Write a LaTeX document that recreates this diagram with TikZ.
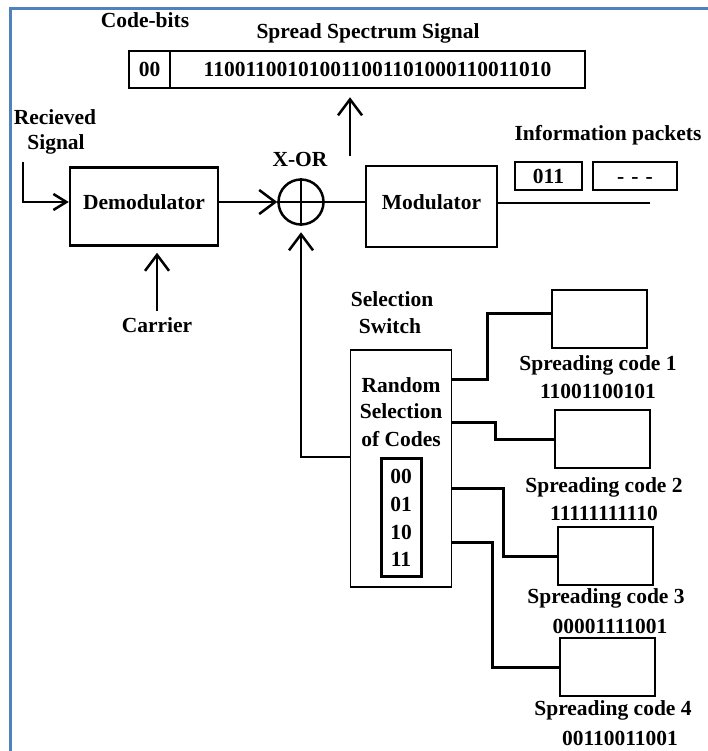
\documentclass[tikz,border=0pt]{standalone}
\usepackage{fontspec}
\setmainfont{Liberation Serif}
\usetikzlibrary{arrows.meta}
\definecolor{frameblue}{RGB}{79,129,189}
\begin{document}
\begin{tikzpicture}[x=1pt,y=-1pt,
  txt/.style={font=\bfseries\fontsize{21.5}{27}\selectfont, inner sep=0pt},
  tb/.style={txt, anchor=base},
  box/.style={draw, line width=2.5pt, inner sep=0pt, txt},
  wire/.style={line width=2.5pt},
  barb/.style={wire, -{Straight Barb[length=16pt,width=24pt,line width=2.5pt]}},
  smallbarb/.style={wire, -{Straight Barb[length=13pt,width=16pt,line width=2.5pt]}},
  codebox/.style={draw, line width=2pt, minimum width=95pt, minimum height=58pt, inner sep=0pt},
  cwire/.style={line width=3pt},
]
\useasboundingbox (0,0) rectangle (708,751);
\draw[frameblue, line width=2.5pt] (10.5,751) -- (10.5,8.5) -- (708,8.5);

% top: spread spectrum signal
\node[tb] (lcb) at (145,28) {Code-bits};
\node[tb] (lss) at (368,39) {Spread Spectrum Signal};
\node[box, minimum width=41pt, minimum height=37pt] (cb) at (149.5,69.5) {00};
\node[box, minimum width=415pt, minimum height=37pt] (ss) at (377.5,69.5) {110011001010011001101000110011010};

% received signal and demodulator
\node[tb] (lrx1) at (55,125) {Recieved};
\node[tb] (lrx2) at (56,150) {Signal};
\node[box, minimum width=148pt, minimum height=78pt, text depth=8.6pt] (demod) at (144,206.5) {Demodulator};
\node[draw, circle, line width=2.5pt, minimum size=45pt, inner sep=0pt] (xor) at (301,202) {};
\draw[line width=2.5pt] (xor.north) -- (xor.south) (xor.west) -- (xor.east);
\node[tb] (lxor) at (300,167) {X-OR};
\node[box, minimum width=131pt, minimum height=81pt, text depth=8.6pt] (mod) at (431.5,206.5) {Modulator};

\coordinate (rx) at (23,162);
\draw[smallbarb] (rx) |- (demod.west |- xor.center);
\draw[barb] (demod.east |- xor.center) -- (xor.west);
\draw[wire] (xor.east) -- (mod.west |- xor.east);
\coordinate (out) at (650,203);
\draw[wire] (mod.east |- out) -- (out);

\coordinate (up) at (350,156);
\draw[barb, shorten >=8pt] (up) -- (up |- ss.south);

% information packets
\node[tb] (linfo) at (608,141) {Information packets};
\node[box, minimum width=67pt, minimum height=28pt, text height=14.5pt, text depth=0pt] (p1) at (548.5,176) {011};
\node[box, minimum width=84pt, minimum height=28pt, text height=14.5pt, text depth=0pt] (p2) at (635,176) {-\,\,-\,\,-};

% carrier
\node[tb] (lcar) at (157,332) {Carrier};
\draw[barb, shorten <=6pt, shorten >=6pt] (lcar.north) -- (lcar.north |- demod.south);

% selection switch
\node[tb] (lsel1) at (392,306.5) {Selection};
\node[tb] (lsel2) at (390,333) {Switch};
\node[draw, line width=1.5pt, minimum width=101pt, minimum height=237pt, inner sep=0pt] (sel) at (401.2,468.5) {};
\node[tb] (r1) at (401,392) {Random};
\node[tb] (r2) at (401,418) {Selection};
\node[tb] (r3) at (401,446) {of Codes};
\node[draw, line width=3pt, minimum width=40pt, minimum height=118pt, inner sep=0pt] (codes) at (401.7,517) {};
\node[tb] (d0) at (401,483) {00};
\node[tb] (d1) at (401,511) {01};
\node[tb] (d2) at (401,539) {10};
\node[tb] (d3) at (401,566) {11};

\coordinate (fb) at (0,457);
\draw[barb, shorten >=6.5pt] (sel.west |- fb) -| (xor.south);

% spreading codes
\node[codebox] (s1) at (599,318.5) {};
\node[codebox] (s2) at (602.5,439) {};
\node[codebox] (s3) at (605.5,556) {};
\node[codebox] (s4) at (607.5,667) {};

\node[tb] (c1a) at (598,370) {Spreading code 1};
\node[tb] (c1b) at (598,398) {11001100101};
\node[tb] (c2a) at (604,492) {Spreading code 2};
\node[tb] (c2b) at (604,520) {11111111110};
\node[tb] (c3a) at (606,603) {Spreading code 3};
\node[tb] (c3b) at (610,633) {00001111001};
\node[tb] (c4a) at (613,715) {Spreading code 4};
\node[tb] (c4b) at (620,745) {00110011001};

\coordinate (y1) at (0,379);
\coordinate (y2) at (0,422);
\coordinate (y3) at (0,488);
\coordinate (y4) at (0,542);
\draw[cwire] (sel.east |- y1) -- ++(35,0) |- ([yshift=5pt]s1.west);
\draw[cwire] (sel.east |- y2) -- ++(43,0) |- (s2.west);
\draw[cwire] (sel.east |- y3) -- ++(51,0) |- (s3.west);
\draw[cwire] (sel.east |- y4) -- ++(40,0) |- (s4.west);
\end{tikzpicture}
\end{document}
